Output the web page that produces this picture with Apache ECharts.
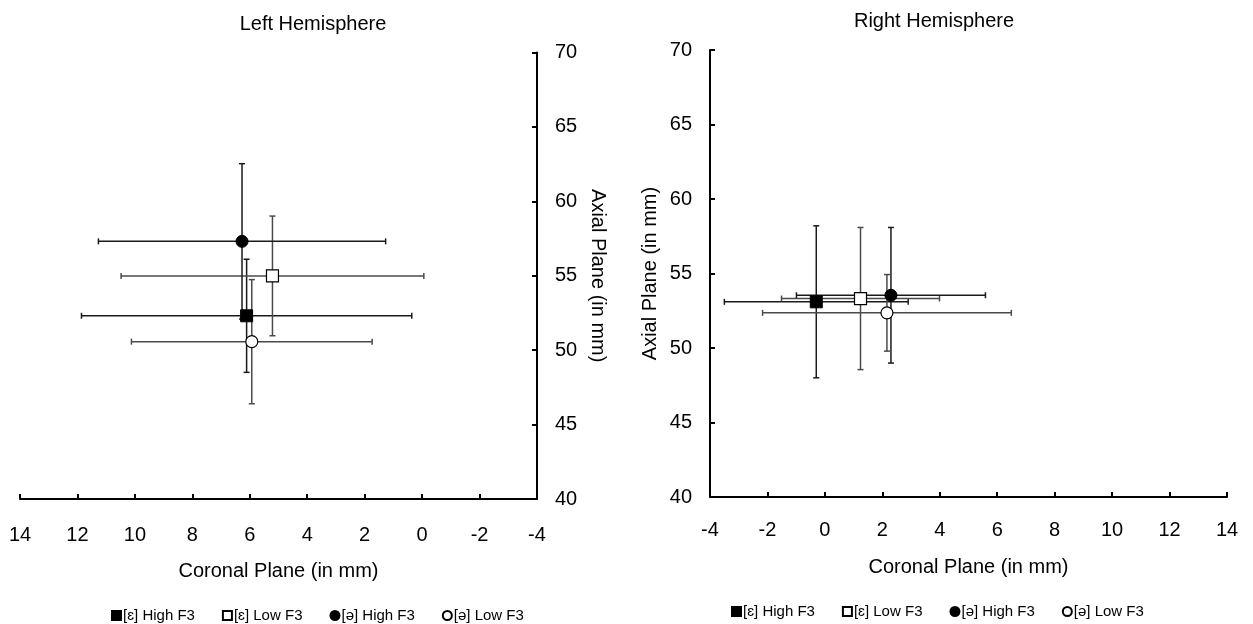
<!DOCTYPE html>
<html>
<head>
<meta charset="utf-8">
<script src="https://cdn.jsdelivr.net/npm/echarts@6/dist/echarts.min.js"></script>
<style>
html,body{margin:0;padding:0;background:#fff;}
#c{width:1253px;height:624px;}
</style>
</head>
<body>
<div id="c"></div>
<script>
// ---- data ----
const categories = ['[ɛ] High F3', '[ɛ] Low F3', '[ə] High F3', '[ə] Low F3'];
const symbols = ['rect', 'rect', 'circle', 'circle'];
const filled = [true, false, true, false];

const leftX = [6.11, 5.21, 6.27, 5.93];
const leftY = [52.31, 54.99, 57.31, 50.57];
const leftXErr = [5.75, 5.27, 5.0, 4.19];
const leftYErr = [3.8, 4.02, 5.22, 4.17];

const rightX = [-0.30, 1.24, 2.30, 2.16];
const rightY = [53.1, 53.32, 53.54, 52.36];
const rightXErr = [3.2, 2.75, 3.29, 4.33];
const rightYErr = [5.1, 4.77, 4.55, 2.57];

const xTicks = [-4, -2, 0, 2, 4, 6, 8, 10, 12, 14];
const yTicks = [40, 45, 50, 55, 60, 65, 70];

const titles = ['Left Hemisphere', 'Right Hemisphere'];
const xName = 'Coronal Plane (in mm)';
const yName = 'Axial Plane (in mm)';

// ---- chart ----
const FONT = '"Liberation Sans", Arial, "DejaVu Sans", sans-serif';
const chart = echarts.init(document.getElementById('c'), null, {renderer: 'canvas'});

function errRender(params, api) {
  const x = api.value(0), y = api.value(1), ex = api.value(2), ey = api.value(3);
  const col = api.value(4) ? '#1a1a1a' : '#4a4a4a';
  const pL = api.coord([x - ex, y]), pR = api.coord([x + ex, y]);
  const pT = api.coord([x, y + ey]), pB = api.coord([x, y - ey]);
  const cap = 3;
  const st = {stroke: col, lineWidth: 1.5};
  const L = (a, b, c, d) => ({type: 'line', shape: {x1: a, y1: b, x2: c, y2: d}, style: st});
  return {type: 'group', children: [
    L(pL[0], pL[1], pR[0], pR[1]),
    L(pT[0], pT[1], pB[0], pB[1]),
    L(pL[0], pL[1] - cap, pL[0], pL[1] + cap),
    L(pR[0], pR[1] - cap, pR[0], pR[1] + cap),
    L(pT[0] - cap, pT[1], pT[0] + cap, pT[1]),
    L(pB[0] - cap, pB[1], pB[0] + cap, pB[1])
  ]};
}

function axisCommon() {
  return {
    axisLine: {show: true, onZero: false, lineStyle: {color: '#000', width: 2}},
    axisTick: {show: true, inside: true, length: 5, lineStyle: {color: '#000', width: 2}},
    splitLine: {show: false},
    axisLabel: {color: '#000', fontSize: 20, fontFamily: FONT},
    nameTextStyle: {color: '#000', fontSize: 20, fontFamily: FONT}
  };
}

const grids = [
  {left: 20, right: 716, top: 52.5, bottom: 125},
  {left: 710, right: 26, top: 50, bottom: 127}
];

const xAxes = [
  Object.assign(axisCommon(), {
    type: 'value', gridIndex: 0, min: -4, max: 14, interval: 2, inverse: true,
    name: xName, nameLocation: 'middle', nameGap: 62
  }),
  Object.assign(axisCommon(), {
    type: 'value', gridIndex: 1, min: -4, max: 14, interval: 2,
    name: xName, nameLocation: 'middle', nameGap: 60
  })
];
xAxes[0].axisLabel.margin = 26;
xAxes[1].axisLabel.margin = 23;

const yAxes = [
  Object.assign(axisCommon(), {
    type: 'value', gridIndex: 0, min: 40, max: 70, interval: 5, position: 'right',
    name: yName, nameLocation: 'middle', nameGap: 51, nameRotate: -90
  }),
  Object.assign(axisCommon(), {
    type: 'value', gridIndex: 1, min: 40, max: 70, interval: 5,
    name: yName, nameLocation: 'middle', nameGap: 50
  })
];
yAxes[0].axisLabel.margin = 18;
yAxes[1].axisLabel.margin = 18;

const series = [];
const sets = [
  {x: leftX, y: leftY, ex: leftXErr, ey: leftYErr},
  {x: rightX, y: rightY, ex: rightXErr, ey: rightYErr}
];
sets.forEach((s, g) => {
  series.push({
    type: 'custom', xAxisIndex: g, yAxisIndex: g, z: 2, silent: true,
    renderItem: errRender,
    encode: {x: 0, y: 1},
    data: categories.map((c, i) => [s.x[i], s.y[i], s.ex[i], s.ey[i], filled[i] ? 1 : 0])
  });
  categories.forEach((c, i) => {
    series.push({
      type: 'scatter', name: c, xAxisIndex: g, yAxisIndex: g, z: 5,
      symbol: symbols[i],
      symbolSize: 12,
      itemStyle: filled[i]
        ? {color: '#000', borderColor: '#000', borderWidth: 1, opacity: 1}
        : {color: '#fff', borderColor: '#000', borderWidth: 1.2, opacity: 1},
      data: [[s.x[i], s.y[i]]]
    });
  });
});

function legendAt(cx, top) {
  return {
    data: categories, left: cx, top: top, orient: 'horizontal',
    itemWidth: 9, itemHeight: 9, itemGap: 27,
    textStyle: {color: '#000', fontSize: 15, fontFamily: FONT, padding: [0, 0, 0, -3]},
    selectedMode: false
  };
}

chart.setOption({
  backgroundColor: '#fff',
  animation: false,
  title: [
    {text: titles[0], left: 308, top: 9, textAlign: 'center',
     textStyle: {color: '#000', fontSize: 20, fontWeight: 'normal', fontFamily: FONT}},
    {text: titles[1], left: 929, top: 6, textAlign: 'center',
     textStyle: {color: '#000', fontSize: 20, fontWeight: 'normal', fontFamily: FONT}}
  ],
  legend: [legendAt(106, 603), legendAt(726, 599)],
  grid: grids,
  xAxis: xAxes,
  yAxis: yAxes,
  series: series
});
</script>
</body>
</html>
